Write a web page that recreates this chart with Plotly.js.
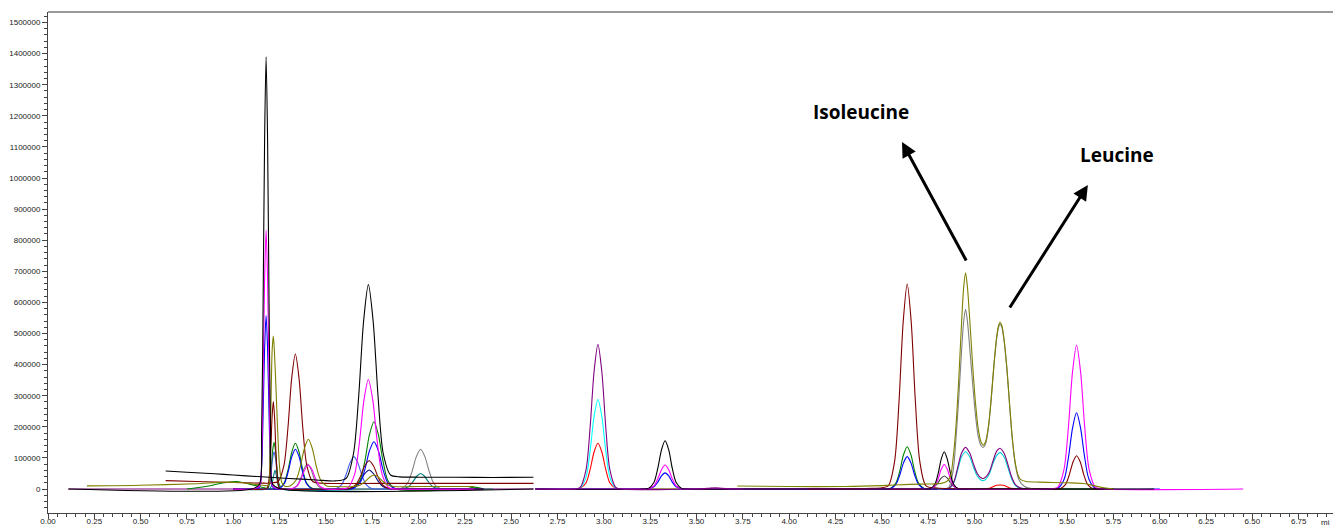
<!DOCTYPE html>
<html><head><meta charset="utf-8">
<script src="https://cdn.plot.ly/plotly-3.0.1.min.js"></script>
<style>html,body{margin:0;padding:0;background:#fff;overflow:hidden}#chart{width:1333px;height:527px}</style>
</head><body><div id="chart"></div>
<script>
// ---- tick labels ----
const X_TICK_VALUES = [0,0.25,0.5,0.75,1,1.25,1.5,1.75,2,2.25,2.5,2.75,3,3.25,3.5,3.75,4,4.25,4.5,4.75,5,5.25,5.5,5.75,6,6.25,6.5,6.75];
const X_TICK_LABELS = ['0.00','0.25','0.50','0.75','1.00','1.25','1.50','1.75','2.00','2.25','2.50','2.75','3.00','3.25','3.50','3.75','4.00','4.25','4.50','4.75','5.00','5.25','5.50','5.75','6.00','6.25','6.50','6.75'];
const Y_TICK_VALUES = [0,100000,200000,300000,400000,500000,600000,700000,800000,900000,1000000,1100000,1200000,1300000,1400000,1500000];
const Y_TICK_LABELS = ['0','100000','200000','300000','400000','500000','600000','700000','800000','900000','1000000','1100000','1200000','1300000','1400000','1500000'];
const X_UNIT_LABEL = 'mi';

// ---- series: [retention time (min), abundance] ----
// segment 1 (0.1 - 2.6 min)
const PURPLE_1 = [[0.11,0],[2.62,0]];
const CYAN_1 = [[1.0,0],[2.30,0]];
const TEAL_1 = [[1.0,0],[1.19,0],[1.205,8000],[1.215,35000],[1.225,60000],[1.235,35000],[1.245,8000],[1.26,0],[1.88,0],[1.912,1000],[1.945,7000],[1.968,22000],[1.990,41000],[2.011,50000],[2.032,41000],[2.054,22000],[2.077,7000],[2.110,1000],[2.15,0],[2.40,0]];
const GRAY_1 = [[1.0,0],[1.30,0],[1.316,1000],[1.344,11000],[1.364,34000],[1.382,65000],[1.40,80000],[1.418,65000],[1.436,34000],[1.456,11000],[1.484,1000],[1.52,0],[1.88,0],[1.903,1000],[1.939,17000],[1.964,55000],[1.988,104000],[2.011,128000],[2.034,104000],[2.058,55000],[2.083,17000],[2.119,1000],[2.15,0],[2.40,0]];
const NAVY_1 = [[1.0,0],[1.60,0],[1.622,1000],[1.659,8000],[1.685,26000],[1.709,49000],[1.733,61000],[1.757,49000],[1.781,26000],[1.807,8000],[1.844,1000],[1.90,0],[2.35,0]];
const LIGHTBLUE_1 = [[1.0,0],[1.17,0],[1.184,1000],[1.196,16000],[1.204,52000],[1.212,97000],[1.22,120000],[1.228,97000],[1.236,52000],[1.244,16000],[1.256,1000],[1.30,0],[1.52,0],[1.552,1000],[1.585,14000],[1.608,45000],[1.630,84000],[1.651,104000],[1.672,84000],[1.694,45000],[1.717,14000],[1.750,1000],[1.80,0],[2.35,0]];
const GREEN_1 = [[0.75,0],[0.85,8000],[0.95,20000],[1.02,24000],[1.10,14000],[1.16,5000],[1.184,3000],[1.196,20000],[1.204,65000],[1.212,122000],[1.22,150000],[1.228,122000],[1.236,65000],[1.244,22000],[1.256,8000],[1.275,20000],[1.296,63000],[1.316,119000],[1.335,147000],[1.355,119000],[1.374,63000],[1.395,20000],[1.425,2000],[1.60,0],[1.648,2000],[1.685,29000],[1.711,93000],[1.735,175000],[1.759,216000],[1.783,175000],[1.807,93000],[1.833,29000],[1.870,2000],[2.25,0],[2.30,6000],[2.35,0]];
const BLUE_1 = [[1.0,0],[1.10,0],[1.141,6000],[1.153,75000],[1.161,240000],[1.169,452000],[1.177,558000],[1.185,452000],[1.193,240000],[1.201,75000],[1.213,6000],[1.245,1000],[1.275,17000],[1.296,55000],[1.316,104000],[1.335,128000],[1.355,104000],[1.374,55000],[1.395,17000],[1.425,1000],[1.60,0],[1.648,2000],[1.685,21000],[1.711,65000],[1.735,123000],[1.759,152000],[1.783,123000],[1.807,65000],[1.833,21000],[1.870,2000],[1.95,0],[2.35,0]];
const MAROON_1 = [[0.635,27000],[0.80,24000],[1.00,21000],[1.15,19000],[1.20,19000],[1.242,24000],[1.273,75000],[1.295,197000],[1.315,355000],[1.335,434000],[1.355,355000],[1.375,197000],[1.397,75000],[1.428,24000],[1.47,19000],[1.8,18000],[2.2,18000],[2.62,18000]];
const MAROON_2 = [[1.0,0],[1.17,0],[1.183,3000],[1.194,38000],[1.202,121000],[1.209,228000],[1.216,281000],[1.223,228000],[1.230,121000],[1.238,38000],[1.249,3000],[1.28,0],[1.60,0],[1.622,1000],[1.659,12000],[1.685,39000],[1.709,74000],[1.733,91000],[1.757,74000],[1.781,39000],[1.807,12000],[1.844,1000],[1.90,0],[2.35,0]];
const MAGENTA_1 = [[1.0,0],[1.10,0],[1.141,9000],[1.153,112000],[1.161,358000],[1.169,675000],[1.177,833000],[1.185,675000],[1.193,358000],[1.201,112000],[1.213,9000],[1.25,0],[1.315,1000],[1.345,10000],[1.366,33000],[1.386,62000],[1.405,77000],[1.425,62000],[1.444,33000],[1.465,10000],[1.495,1000],[1.58,0],[1.618,4000],[1.655,48000],[1.681,151000],[1.705,285000],[1.729,352000],[1.753,285000],[1.777,151000],[1.803,48000],[1.840,4000],[1.90,0],[2.30,0]];
const OLIVE_1 = [[0.21,10000],[0.50,12000],[0.80,17000],[0.95,22000],[1.05,20000],[1.12,15000],[1.17,11000],[1.19,12000],[1.198,120000],[1.205,330000],[1.210,450000],[1.216,492000],[1.222,440000],[1.230,330000],[1.240,180000],[1.250,70000],[1.262,20000],[1.275,10000],[1.306,10000],[1.339,29000],[1.362,73000],[1.384,131000],[1.405,160000],[1.426,131000],[1.448,73000],[1.471,29000],[1.504,10000],[1.55,8000],[1.649,8000],[1.686,13000],[1.712,24000],[1.736,38000],[1.76,45000],[1.784,38000],[1.808,24000],[1.834,13000],[1.871,8000],[2.0,8000],[2.30,8000]];
const BLACK_2 = [[0.635,58000],[0.75,54000],[0.90,49000],[1.00,45000],[1.13,40000],[1.30,34000],[1.45,29000],[1.55,26000],[1.609,34000],[1.649,115000],[1.677,300000],[1.703,538000],[1.729,657000],[1.755,538000],[1.781,300000],[1.809,115000],[1.849,45000],[1.90,39000],[2.0,38000],[2.2,38000],[2.4,37000],[2.62,38000]];
const BLACK_1 = [[0.11,0],[1.10,0],[1.141,15000],[1.153,188000],[1.161,598000],[1.169,1126000],[1.177,1390000],[1.185,1126000],[1.193,598000],[1.201,188000],[1.213,15000],[1.26,0],[2.62,0]];
// segment 2 (2.6 - 3.75 min)
const GREEN_2 = [[2.63,0],[3.75,0]];
const PURPLE_2 = [[2.63,0],[2.85,0],[2.872,5000],[2.904,63000],[2.926,200000],[2.947,377000],[2.968,465000],[2.989,377000],[3.010,200000],[3.032,63000],[3.064,5000],[3.09,0],[3.50,0],[3.56,2000],[3.60,4000],[3.64,2000],[3.70,0],[3.75,0]];
const CYAN_2 = [[2.63,0],[2.85,0],[2.872,3000],[2.904,39000],[2.926,124000],[2.947,233000],[2.968,288000],[2.989,233000],[3.010,124000],[3.032,39000],[3.064,3000],[3.09,0],[3.75,0]];
const RED_2 = [[2.63,0],[2.85,0],[2.872,2000],[2.904,20000],[2.926,63000],[2.947,119000],[2.968,147000],[2.989,119000],[3.010,63000],[3.032,20000],[3.064,2000],[3.09,0],[3.75,0]];
const BLUE_2 = [[2.63,0],[3.21,0],[3.240,1000],[3.270,7000],[3.291,22000],[3.311,42000],[3.33,52000],[3.350,42000],[3.369,22000],[3.390,7000],[3.420,1000],[3.45,0],[3.75,0]];
const MAGENTA_2 = [[2.63,0],[3.21,0],[3.240,1000],[3.270,10000],[3.291,33000],[3.311,62000],[3.33,77000],[3.350,62000],[3.369,33000],[3.390,10000],[3.420,1000],[3.45,0],[3.75,0]];
const BLACK_3 = [[2.63,0],[3.21,0],[3.240,2000],[3.270,21000],[3.291,67000],[3.311,126000],[3.33,155000],[3.350,126000],[3.369,67000],[3.390,21000],[3.420,2000],[3.45,0],[3.75,0]];
// segment 3 (3.7 - 6.45 min)
const TEAL_3 = [[4.5,0],[5.75,0]];
const PURPLE_3 = [[3.75,0],[4.80,0],[4.85,0],[4.87,6000],[4.89,25000],[4.91,70000],[4.93,115000],[4.952,134000],[4.975,115000],[4.995,80000],[5.015,50000],[5.035,36000],[5.048,34000],[5.06,38000],[5.08,55000],[5.10,90000],[5.12,122000],[5.138,131000],[5.16,115000],[5.18,80000],[5.20,40000],[5.22,15000],[5.25,3000],[5.30,0],[5.75,0]];
const CYAN_3 = [[4.80,0],[4.85,0],[4.87,5000],[4.89,22000],[4.91,62000],[4.93,103000],[4.952,120000],[4.975,103000],[4.995,70000],[5.015,42000],[5.035,29000],[5.048,27000],[5.06,31000],[5.08,48000],[5.10,82000],[5.12,108000],[5.138,117000],[5.16,103000],[5.18,70000],[5.20,34000],[5.22,12000],[5.25,2000],[5.30,0],[5.75,0]];
const RED_3 = [[3.75,0],[5.05,0],[5.08,2000],[5.10,7000],[5.12,12000],[5.138,13000],[5.156,12000],[5.176,7000],[5.196,2000],[5.226,0],[5.75,0]];
const DARKGRAY_3 = [[4.70,0],[4.753,1000],[4.781,6000],[4.801,18000],[4.819,34000],[4.837,42000],[4.855,34000],[4.873,18000],[4.893,6000],[4.921,1000],[4.97,0]];
const GREEN_3 = [[3.75,0],[4.50,0],[4.544,1000],[4.575,18000],[4.597,58000],[4.617,110000],[4.637,136000],[4.657,110000],[4.677,58000],[4.699,18000],[4.730,1000],[4.78,0],[5.75,0]];
const BLUE_3 = [[3.75,0],[4.50,0],[4.544,1000],[4.575,14000],[4.597,45000],[4.617,84000],[4.637,104000],[4.657,84000],[4.677,45000],[4.699,14000],[4.730,1000],[4.78,0],[5.40,0],[5.452,3000],[5.485,33000],[5.508,105000],[5.530,198000],[5.551,245000],[5.572,198000],[5.594,105000],[5.617,33000],[5.650,3000],[5.70,0],[6.0,0]];
const GRAY_3 = [[4.80,0],[4.86,5000],[4.885,60000],[4.90,160000],[4.915,290000],[4.93,440000],[4.942,540000],[4.952,578000],[4.962,540000],[4.975,450000],[4.99,340000],[5.005,240000],[5.02,170000],[5.035,140000],[5.048,134000],[5.06,145000],[5.075,195000],[5.09,285000],[5.105,395000],[5.12,485000],[5.13,520000],[5.138,530000],[5.148,520000],[5.16,475000],[5.175,385000],[5.19,265000],[5.205,155000],[5.22,80000],[5.24,30000],[5.27,8000],[5.32,0]];
const MAROON_3 = [[4.10,0],[4.45,2000],[4.50,4000],[4.535,10000],[4.569,89000],[4.593,283000],[4.615,534000],[4.637,659000],[4.659,534000],[4.681,283000],[4.705,89000],[4.739,10000],[4.80,3000],[5.0,0],[5.40,0],[5.461,1000],[5.491,14000],[5.512,46000],[5.532,87000],[5.551,107000],[5.571,87000],[5.590,46000],[5.611,14000],[5.641,1000],[5.70,0],[5.75,0]];
const MAGENTA_3 = [[3.75,0],[4.72,0],[4.762,1000],[4.787,11000],[4.805,34000],[4.821,64000],[4.837,79000],[4.853,64000],[4.870,34000],[4.887,11000],[4.912,1000],[4.95,0],[5.40,0],[5.449,5000],[5.483,62000],[5.507,199000],[5.529,375000],[5.551,463000],[5.573,375000],[5.595,199000],[5.619,62000],[5.653,5000],[5.70,0],[6.45,0]];
const OLIVE_3 = [[3.72,9600],[4.0,8000],[4.3,8000],[4.5,11000],[4.65,15000],[4.75,16000],[4.82,18000],[4.85,24000],[4.87,40000],[4.885,100000],[4.90,200000],[4.915,350000],[4.93,530000],[4.942,650000],[4.952,695000],[4.962,650000],[4.975,540000],[4.99,400000],[5.005,280000],[5.02,195000],[5.035,152000],[5.048,141000],[5.06,152000],[5.075,200000],[5.09,290000],[5.105,400000],[5.12,490000],[5.13,525000],[5.138,536000],[5.148,525000],[5.16,480000],[5.175,390000],[5.19,270000],[5.205,160000],[5.22,85000],[5.235,45000],[5.25,30000],[5.28,24000],[5.35,22000],[5.5,20000],[5.6,17000],[5.65,10000],[5.7,4000],[5.75,0]];
const BLACK_4 = [[3.75,0],[4.72,0],[4.762,1000],[4.787,16000],[4.805,52000],[4.821,97000],[4.837,120000],[4.853,97000],[4.870,52000],[4.887,16000],[4.912,1000],[4.95,0],[5.97,0]];

// ---- drawing order and colours ----
const SERIES = [
  [PURPLE_1,'#800080'],[CYAN_1,'#00e0e0'],[TEAL_1,'#008080'],[GRAY_1,'#808080'],[NAVY_1,'#000080'],
  [LIGHTBLUE_1,'#3c5cf0'],[GREEN_1,'#008000'],[BLUE_1,'#0000ff'],[MAROON_1,'#800000'],[MAROON_2,'#800000'],
  [MAGENTA_1,'#ff00ff'],[OLIVE_1,'#808000'],[BLACK_2,'#000000'],[BLACK_1,'#000000'],
  [GREEN_2,'#008000'],[RED_2,'#ff0000'],[CYAN_2,'#00ffff'],[BLUE_2,'#0000ff'],[MAGENTA_2,'#ff00ff'],[BLACK_3,'#000000'],[PURPLE_2,'#800080'],
  [TEAL_3,'#008080'],[RED_3,'#ff0000'],[CYAN_3,'#00d0d0'],[PURPLE_3,'#800080'],[DARKGRAY_3,'#404040'],[GREEN_3,'#008000'],
  [BLUE_3,'#0000ff'],[GRAY_3,'#808080'],[MAROON_3,'#800000'],[MAGENTA_3,'#ff00ff'],[BLACK_4,'#000000'],[OLIVE_3,'#808000']
];

const traces = SERIES.map(([d, c]) => ({
  x: d.map(p => p[0]), y: d.map(p => p[1]),
  type: 'scatter', mode: 'lines', hoverinfo: 'skip', showlegend: false,
  line: {color: c, width: 1.1, shape: 'spline', smoothing: 0.8}
}));

const axisCol = '#444';
const layout = {
  width: 1333, height: 527,
  margin: {l: 48, r: 0, t: 12, b: 14, pad: 0},
  paper_bgcolor: '#ffffff', plot_bgcolor: '#ffffff', showlegend: false,
  font: {family: 'Liberation Sans, Arial, sans-serif', size: 8, color: '#222'},
  xaxis: {
    range: [0, 6.935], tickmode: 'array', tickvals: X_TICK_VALUES, ticktext: X_TICK_LABELS,
    ticks: 'outside', ticklen: 5, tickwidth: 1, tickcolor: axisCol, ticklabelstandoff: -5,
    showline: true, linecolor: axisCol, linewidth: 1, showgrid: false, zeroline: false,
    minor: {dtick: 0.05, tick0: 0, ticks: 'outside', ticklen: 3, tickwidth: 1, tickcolor: axisCol, showgrid: false},
    tickfont: {size: 8, color: '#222'}
  },
  yaxis: {
    range: [-77170, 1533760], tickmode: 'array', tickvals: Y_TICK_VALUES, ticktext: Y_TICK_LABELS,
    ticks: 'outside', ticklen: 5, tickwidth: 1, tickcolor: axisCol,
    showline: true, linecolor: axisCol, linewidth: 1, showgrid: false, zeroline: false,
    minor: {dtick: 20000, tick0: 0, ticks: 'outside', ticklen: 3, tickwidth: 1, tickcolor: axisCol, showgrid: false},
    tickfont: {size: 8, color: '#222'}
  },
  shapes: [
    {type: 'line', xref: 'paper', yref: 'paper', x0: 0, x1: 1, y0: 1, y1: 1, line: {color: '#777', width: 1.5}}
  ],
  annotations: [
    {xref: 'paper', yref: 'paper', x: 1, xshift: -1, y: -0.018, xanchor: 'right', yanchor: 'middle', text: X_UNIT_LABEL, showarrow: false, font: {size: 8, color: '#222'}},
    {x: 4.387, y: 1212200, xref: 'x', yref: 'y', text: 'Isoleucine', showarrow: false, xanchor: 'center', yanchor: 'middle',
     font: {family: 'Open Sans, Noto Sans, sans-serif', size: 19, color: '#000', weight: 700}},
    {x: 5.769, y: 1074000, xref: 'x', yref: 'y', text: 'Leucine', showarrow: false, xanchor: 'center', yanchor: 'middle',
     font: {family: 'Open Sans, Noto Sans, sans-serif', size: 19, color: '#000', weight: 700}},
    {x: 4.609, y: 1115760, xref: 'x', yref: 'y', ax: 65, ay: 120, axref: 'pixel', ayref: 'pixel', text: '',
     showarrow: true, arrowhead: 2, arrowsize: 1, arrowwidth: 3, arrowcolor: '#000'},
    {x: 5.612, y: 977500, xref: 'x', yref: 'y', ax: -79, ay: 124, axref: 'pixel', ayref: 'pixel', text: '',
     showarrow: true, arrowhead: 2, arrowsize: 1, arrowwidth: 3, arrowcolor: '#000'}
  ]
};

Plotly.newPlot('chart', traces, layout, {staticPlot: true, displayModeBar: false});
</script>
</body></html>
